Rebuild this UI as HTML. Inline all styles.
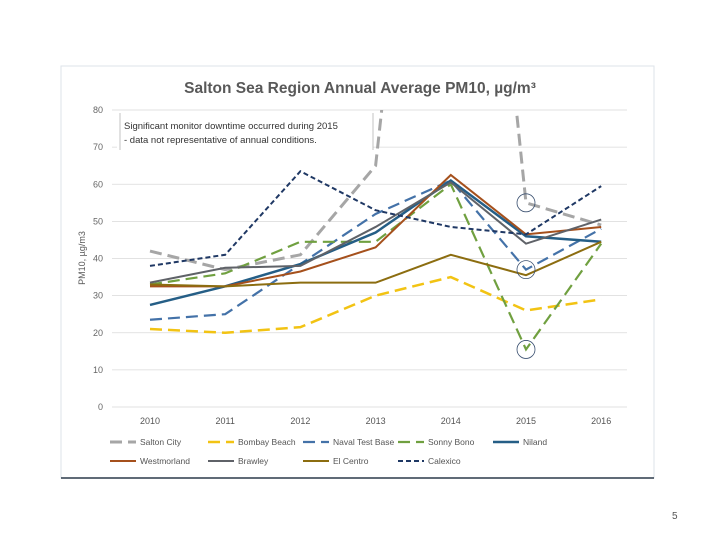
<!DOCTYPE html>
<html><head><meta charset="utf-8"><style>
body{margin:0;width:720px;height:540px;background:#fff;font-family:"Liberation Sans",sans-serif;overflow:hidden}
</style></head><body>
<svg width="720" height="540" id="svg" font-family="Liberation Sans, sans-serif">
<rect x="61" y="66" width="593" height="412" fill="#fff" stroke="#dde3ea"/>
<line x1="61" y1="478" x2="654" y2="478" stroke="#2b3a4a" stroke-width="1.5"/>
<text x="360" y="93" text-anchor="middle" font-size="15.5" font-weight="bold" fill="#595959">Salton Sea Region Annual Average PM10, µg/m³</text>
<text x="85" y="258" font-size="9" fill="#595959" transform="rotate(-90 85 258)" text-anchor="middle">PM10, µg/m3</text>
<g id="grid"></g><g id="series"></g>
<rect x="117" y="113" width="256" height="38" fill="#fff"/>
<line x1="120" y1="113" x2="120" y2="150" stroke="#aaa" stroke-width="0.7"/>
<line x1="373" y1="113" x2="373" y2="150" stroke="#aaa" stroke-width="0.7"/>
<text x="124" y="129" font-size="9.5" fill="#333">Significant monitor downtime occurred during 2015</text>
<text x="124" y="143" font-size="9.5" fill="#333">- data not representative of annual conditions.</text>
<g id="legend"></g>
<text x="672" y="519" font-size="10" fill="#555">5</text>
</svg>
<script>
const years=["2010","2011","2012","2013","2014","2015","2016"];
const yTicks=[0,10,20,30,40,50,60,70,80];
const seriesNames=["Salton City","Bombay Beach","Naval Test Base","Sonny Bono","Niland","Westmorland","Brawley","El Centro","Calexico"];
const saltonCity=[42,37,41,65,250,55,49];
const bombayBeach=[21,20,21.5,30,35,26,29];
const navalTestBase=[23.5,25,38.5,52,61,37,48];
const sonnyBono=[33,36,44.5,44.5,60,15.5,44];
const niland=[27.5,32.5,38.5,47,61,46,44.5];
const westmorland=[32.5,32.5,36.5,43,62.5,46.5,48.5];
const brawley=[33.5,37.5,38,48.5,60.5,44,50.5];
const elCentro=[33,32.5,33.5,33.5,41,35.5,44.5];
const calexico=[38,41,63.5,53,48.5,46.5,59.5];
const circledPoints=[[0,5],[2,5],[3,5]];
const NS="http://www.w3.org/2000/svg";
const X=i=>150+i*75.2, Y=v=>407-v*3.7125;
function mk(t,a,p){const e=document.createElementNS(NS,t);for(const k in a)e.setAttribute(k,a[k]);p.appendChild(e);return e;}
const svg=document.getElementById('svg');
const defs=mk('defs',{},svg);const cp=mk('clipPath',{id:'clip'},defs);mk('rect',{x:100,y:Y(80),width:560,height:Y(0)-Y(80)+5},cp);
const grid=document.getElementById('grid');
yTicks.forEach(v=>{const l=mk('line',{x1:112,x2:627,y1:Y(v),y2:Y(v),stroke:'#d9d9d9','stroke-width':0.8},grid);


const t=mk('text',{x:103,y:Y(v)+3,'text-anchor':'end','font-size':9,fill:'#666'},grid);t.textContent=v;

});
years.forEach((y,i)=>{const t=mk('text',{x:X(i),y:424,'text-anchor':'middle','font-size':9,fill:'#555'},grid);t.textContent=y;

});
const data=[saltonCity,bombayBeach,navalTestBase,sonnyBono,niland,westmorland,brawley,elCentro,calexico];
const styles=[["#a6a6a6",3,"12 6"],["#f2c313",2.5,"12 6"],["#4472a8",2.2,"12 6"],["#70a040",2.2,"12 6"],["#255e86",2.5,""],["#a5501c",2,""],["#5f6268",2,""],["#8c6d10",2,""],["#1f3864",2,"5 3"]];
const sg=document.getElementById('series');sg.setAttribute('clip-path','url(#clip)');
data.forEach((d,s)=>{const p=mk('polyline',{points:d.map((v,i)=>X(i)+','+Y(v)).join(' '),fill:'none',stroke:styles[s][0],'stroke-width':styles[s][1],'stroke-dasharray':styles[s][2]},sg);

});
circledPoints.forEach(([s,i])=>{const c=mk('circle',{cx:X(i),cy:Y(data[s][i]),r:9,fill:'none',stroke:'#3a5070','stroke-width':0.8},svg);

});
const lg=document.getElementById('legend');
const lx=[110,208,303,398,493,110,208,303,398];
seriesNames.forEach((n,s)=>{const row=s<5?0:1;const y=row?461:442;const x=lx[s];
const g=mk('g',{},lg);


mk('line',{x1:x,x2:x+26,y1:y,y2:y,stroke:styles[s][0],'stroke-width':styles[s][1],'stroke-dasharray':styles[s][2]},g);
const t=mk('text',{x:x+30,y:y+3,'font-size':8.5,fill:'#555'},g);t.textContent=n;});
</script>
</body></html>
